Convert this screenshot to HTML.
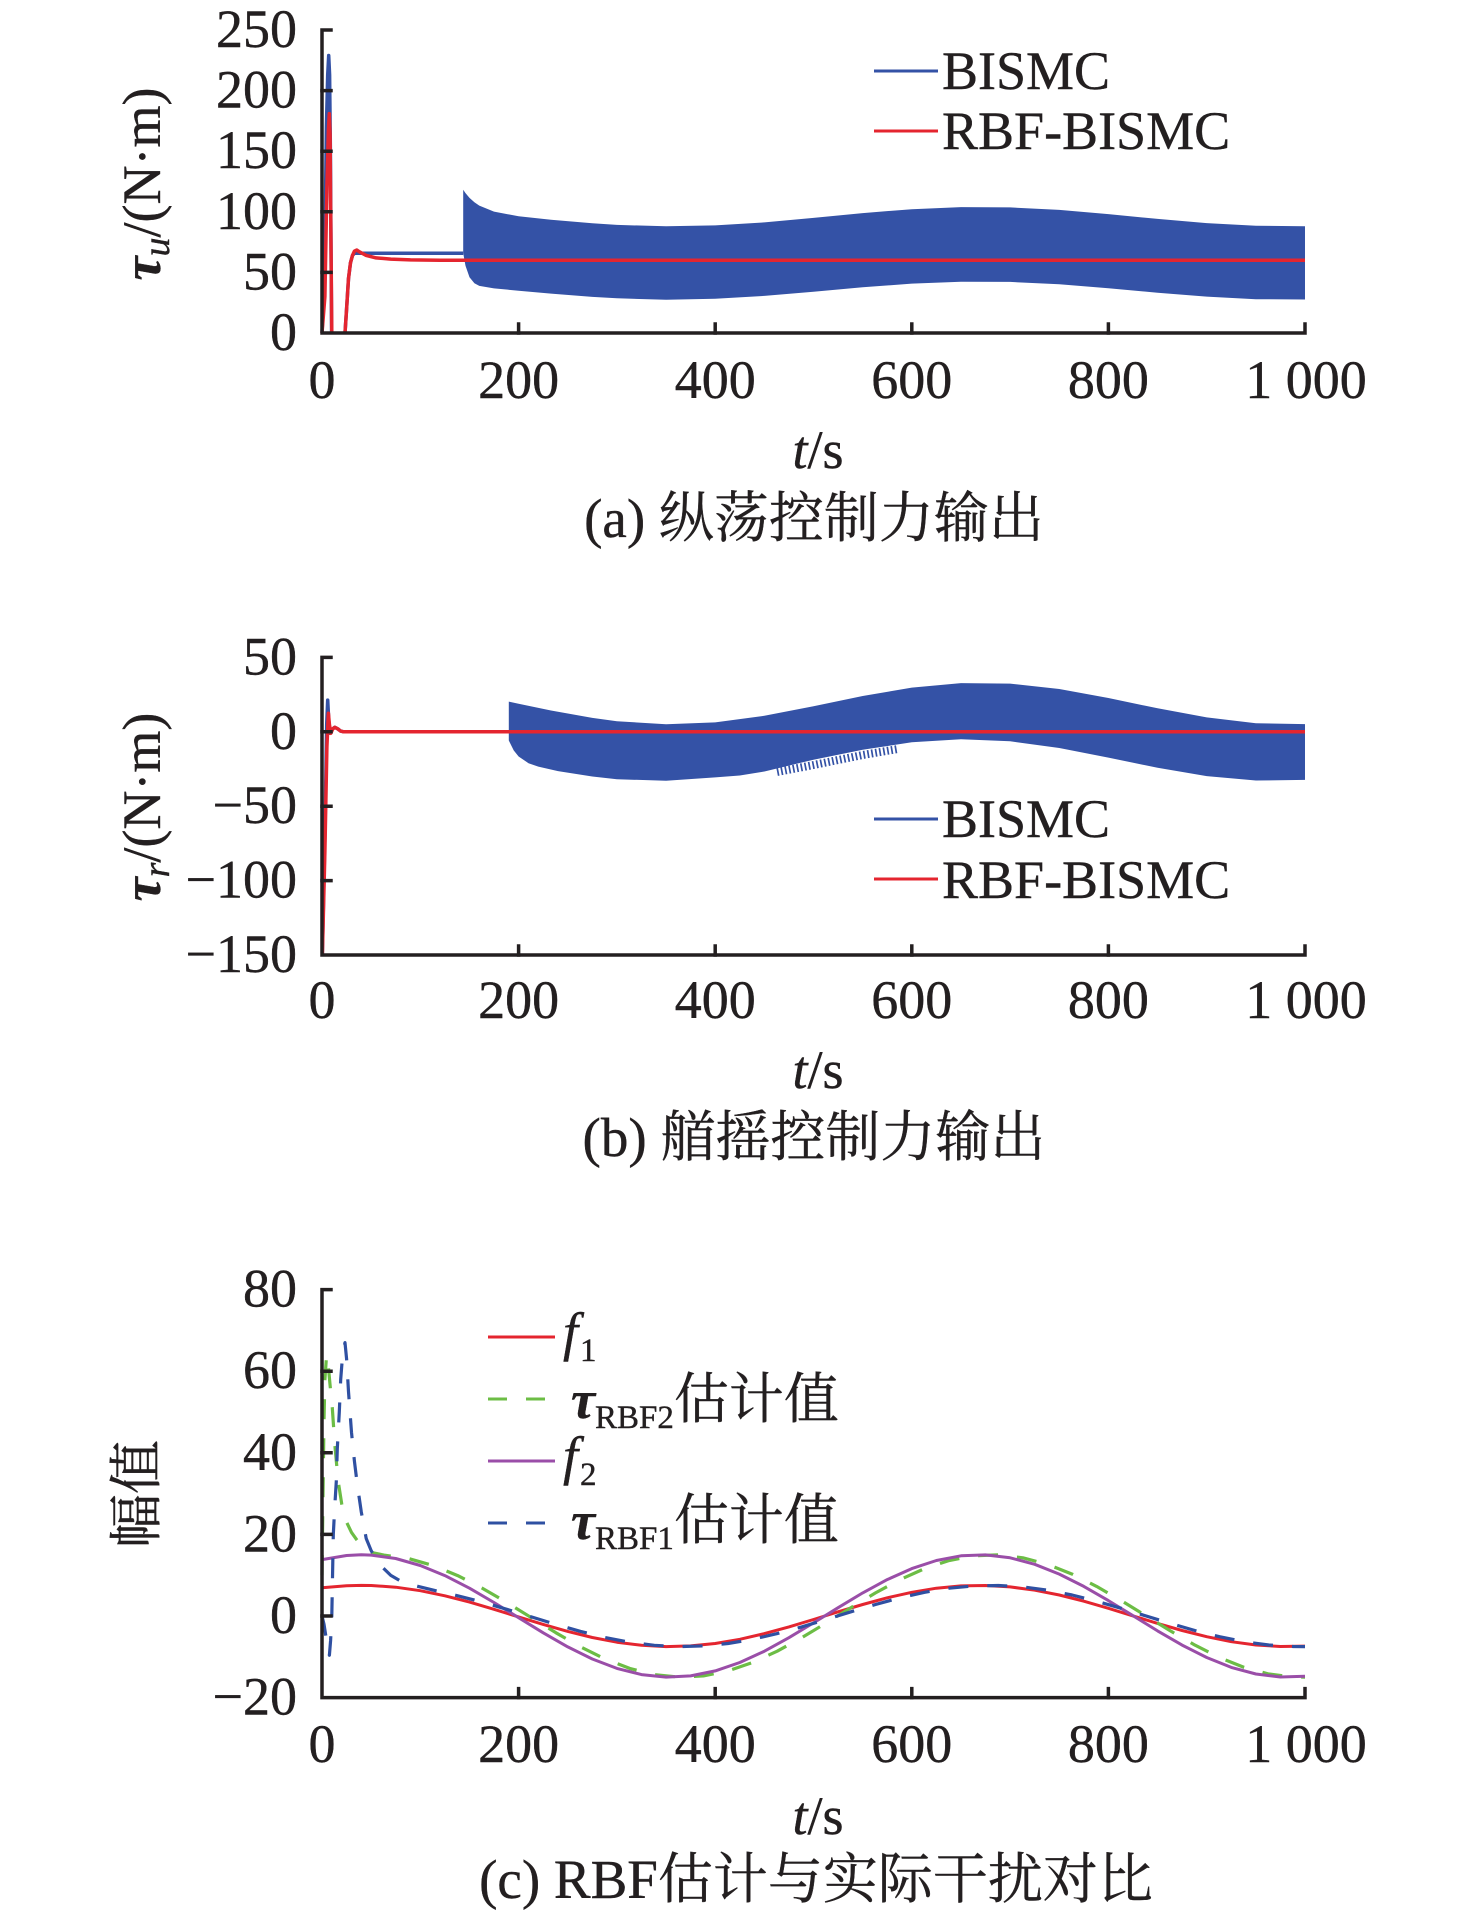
<!DOCTYPE html>
<html><head><meta charset="utf-8">
<style>
html,body{margin:0;padding:0;background:#fff;}
svg{display:block;}
text{font-family:"Liberation Serif","Noto Serif CJK SC",serif;fill:#231f20;stroke:#231f20;stroke-width:0.4px;}
.n{font-size:54px;}
.cap{font-size:55px;}
</style></head><body>
<svg width="1476" height="1922" viewBox="0 0 1476 1922">
<rect width="1476" height="1922" fill="#fff"/>
<defs>
<clipPath id="ca"><rect x="318" y="20" width="994" height="313"/></clipPath>
<clipPath id="cb"><rect x="318" y="640" width="994" height="315"/></clipPath>
<clipPath id="cc"><rect x="318" y="1280" width="994" height="418"/></clipPath>
</defs>

<!-- ===== panel a data ===== -->
<path fill="#3452a6" d="M463.2,253.1 L463.2,189.7 L465.5,193.1 L469.5,197.9 L474.4,202.3 L479.3,205.6 L494.0,211.6 L518.6,216.3 L551.0,219.8 L592.3,223.3 L616.9,224.9 L666.1,226.3 L715.2,225.4 L764.4,222.4 L813.5,217.9 L862.7,213.1 L911.8,209.2 L961.0,207.1 L1010.1,207.4 L1059.3,209.9 L1108.4,214.1 L1157.6,218.9 L1206.7,223.1 L1255.9,225.8 L1305,226.2 L1305,299.5 L1255.9,299.2 L1206.7,296.6 L1157.6,292.7 L1108.4,288.2 L1059.3,284.3 L1010.1,281.9 L961.0,281.7 L911.8,283.6 L862.7,287.3 L813.5,291.8 L764.4,295.9 L715.2,298.8 L666.1,299.7 L616.9,298.3 L592.3,296.9 L551.0,293.6 L518.6,290.7 L494.0,288.4 L479.3,285.9 L474.4,283.3 L469.5,277.2 L465.5,265.7 Z"/>
<g clip-path="url(#ca)" fill="none" stroke-width="3.5" stroke-linejoin="round">
<polyline stroke="#3452a6" points="322,333 324.5,284.5 326.4,127 327.7,75 328.7,55.5 329.6,75 330.4,151.2 331.6,333 332.8,369.4 343.6,369.4 345,333 346.6,308.8 348.5,278.5 350.5,262.7 352.5,255.4 354.4,253.3 463.2,253.3"/>
<polyline stroke="#e4252f" points="322,333 324.9,296.6 326.9,187.6 328.4,130 329.3,113.6 330.1,135 330.7,211.8 331.8,333 332.8,369.4 343.6,369.4 345,333 346.6,308.8 348.5,278.5 350.5,262.7 352.5,255.4 354.4,251.2 356.7,250 359.4,251.8 366.2,255.4 376.1,257.9 390.8,259.1 410.5,259.9 440,260.2 1305,260.2"/>
</g>

<!-- ===== panel b data ===== -->
<path fill="#3452a6" d="M508.8,740.5 L508.8,701.6 L518.6,703.7 L551.0,710.5 L592.3,717.9 L616.9,721.2 L666.1,724.3 L715.2,722.4 L764.4,715.8 L813.5,706.2 L862.7,696.0 L911.8,687.6 L961.0,683.1 L1010.1,683.6 L1059.3,689.0 L1108.4,698.0 L1157.6,708.3 L1206.7,717.4 L1255.9,723.2 L1305,724.1 L1305,779.9 L1255.9,780.5 L1206.7,776.1 L1157.6,767.8 L1108.4,757.6 L1059.3,748.0 L1010.1,741.3 L961.0,739.3 L911.8,742.3 L862.7,749.7 L813.5,759.7 L764.4,771.5 L739.8,775.5 L715.2,777.4 L666.1,780.8 L616.9,779.2 L592.3,776.5 L558.0,771.1 L538.3,766.6 L528.5,763.2 L518.6,756.5 L513.7,750.4 Z"/>
<polyline fill="none" stroke="#3452a6" stroke-width="8" stroke-dasharray="1.7 2.3" points="777.1,772 813.5,765 862.7,755 898,749"/>
<g clip-path="url(#cb)" fill="none" stroke-width="3.5" stroke-linejoin="round">
<polyline stroke="#3452a6" points="322,969.9 324.9,836 326.7,724.4 327.7,700.1 328.7,719.9 329.9,733.3 332.8,728.8 334.8,727.3 337.7,728.8 340.7,731.1 343.6,731.8 508.8,731.8"/>
<polyline stroke="#e4252f" points="322,969.9 324.9,850.8 326.9,746.7 328.4,713.2 329.4,724.4 330.8,733.3 332.8,728.8 334.8,727.3 337.7,728.8 340.7,731.1 343.6,731.8 1305,731.8"/>
</g>

<!-- ===== panel c data ===== -->
<g clip-path="url(#cc)" fill="none" stroke-linejoin="round">
<polyline stroke="#e4252f" stroke-width="3" points="322,1587.8 346.6,1585.7 361.3,1585.4 371.2,1585.5 395.7,1587.2 420.3,1590.7 444.9,1595.8 469.5,1602.1 494,1609.3 518.6,1616.9 543.2,1624.4 567.8,1631.4 592.3,1637.5 616.9,1642.2 641.5,1645.3 666.1,1646.6 690.6,1645.9 715.2,1643.5 739.8,1639.3 764.4,1633.6 788.9,1626.9 813.5,1619.5 838.1,1611.8 862.7,1604.5 887.2,1597.8 911.8,1592.3 936.4,1588.2 961,1585.9 985.5,1585.5 1010.1,1586.9 1034.7,1590.2 1059.3,1595 1083.8,1601.2 1108.4,1608.3 1133,1615.9 1157.6,1623.4 1182.1,1630.5 1206.7,1636.7 1231.3,1641.7 1255.9,1645 1280.4,1646.5 1305,1646.1"/>
<polyline stroke="#6cbd45" stroke-width="3.2" stroke-dasharray="20 19" points="322,1575.2 323,1493.6 324,1420.2 324.9,1379.4 326.6,1354.9 327.9,1361 329.9,1383.4 332.3,1407.9 334.8,1444.6 338.2,1481.4 341.7,1503.8 346.6,1522.2 351.5,1532.4 356.4,1539.3 361.3,1545.8 366.2,1549.9 371.2,1552.4 383.9,1555.1 408.5,1558.5 433.1,1565.5 457.7,1575.6 482.3,1588.2 506.8,1602.5 531.4,1617.7 556,1632.8 580.6,1646.9 605.1,1659 629.7,1668.4 654.3,1674.6 678.9,1677.1 703.4,1675.9 728,1670.9 752.6,1662.5 777.2,1651.2 801.7,1637.7 826.3,1622.9 850.9,1607.7 875.5,1592.9 900,1579.6 924.6,1568.6 949.2,1560.5 973.8,1555.8 998.3,1554.9 1022.9,1557.8 1047.5,1564.3 1072.1,1574.1 1096.6,1586.4 1121.2,1600.6 1145.8,1615.7 1170.4,1630.9 1194.9,1645.1 1219.5,1657.5 1244.1,1667.4 1268.7,1674 1293.2,1677 1305,1677.1"/>
<polyline stroke="#9a4ea8" stroke-width="3" points="322,1559.6 346.6,1555.5 361.3,1554.8 371.2,1555.1 395.7,1558.5 420.3,1565.5 444.9,1575.6 469.5,1588.2 494,1602.5 518.6,1617.7 543.2,1632.8 567.8,1646.9 592.3,1659 616.9,1668.4 641.5,1674.6 666.1,1677.1 690.6,1675.9 715.2,1670.9 739.8,1662.5 764.4,1651.2 788.9,1637.7 813.5,1622.9 838.1,1607.7 862.7,1592.9 887.2,1579.6 911.8,1568.6 936.4,1560.5 961,1555.8 985.5,1554.9 1010.1,1557.8 1034.7,1564.3 1059.3,1574.1 1083.8,1586.4 1108.4,1600.6 1133,1615.7 1157.6,1630.9 1182.1,1645.1 1206.7,1657.5 1231.3,1667.4 1255.9,1674 1280.4,1677 1305,1676.3"/>
<polyline stroke="#2f50a2" stroke-width="3.2" stroke-dasharray="20 19" points="322,1616 324,1624.2 325.9,1636.4 327.9,1650.7 329.4,1655.2 330.6,1640.5 331.8,1616 333.3,1534.4 334.8,1505.8 336.3,1481.4 337.3,1448.7 339.3,1412 340.7,1379.4 342.6,1354.9 345,1342.6 346.6,1359 348.5,1391.6 351.5,1432.4 354.4,1461 357.4,1485.4 361.3,1512 366.2,1538.5 371.2,1550.7 376.1,1558.9 381,1565.8 390.8,1575.4 400.6,1581.1 408.5,1584.1 433.1,1590.1 457.7,1595.8 482.3,1602.1 506.8,1609.3 531.4,1616.9 556,1624.4 580.6,1631.4 605.1,1637.5 629.7,1642.2 654.3,1645.3 678.9,1646.6 703.4,1645.9 728,1643.5 752.6,1639.3 777.2,1633.6 801.7,1626.9 826.3,1619.5 850.9,1611.8 875.5,1604.5 900,1597.8 924.6,1592.3 949.2,1588.2 973.8,1585.9 998.3,1585.5 1022.9,1586.9 1047.5,1590.2 1072.1,1595 1096.6,1601.2 1121.2,1608.3 1145.8,1615.9 1170.4,1623.4 1194.9,1630.5 1219.5,1636.7 1244.1,1641.7 1268.7,1645 1293.2,1646.5 1305,1646.6"/>
</g>

<!-- axes -->
<g stroke="#231f20" stroke-width="3.5" fill="none" stroke-linecap="square">
  <polyline points="331,30 322,30 322,333 1305,333 1305,324"/>
  <path d="M322 90.6H331M322 151.2H331M322 211.8H331M322 272.4H331M518.6 333V324M715.2 333V324M911.8 333V324M1108.4 333V324"/>
  <polyline points="331,657.4 322,657.4 322,955 1305,955 1305,946"/>
  <path d="M322 731.8H331M322 806.2H331M322 880.6H331M518.6 955V946M715.2 955V946M911.8 955V946M1108.4 955V946"/>
  <polyline points="331,1289.6 322,1289.6 322,1697.6 1305,1697.6 1305,1688.6"/>
  <path d="M322 1371.2H331M322 1452.8H331M322 1534.4H331M322 1616H331M518.6 1697.6V1688.6M715.2 1697.6V1688.6M911.8 1697.6V1688.6M1108.4 1697.6V1688.6"/>
</g>

<!-- panel a labels -->
<g class="n" text-anchor="end">
  <text x="297" y="47">250</text>
  <text x="297" y="107.6">200</text>
  <text x="297" y="168.2">150</text>
  <text x="297" y="228.8">100</text>
  <text x="297" y="289.4">50</text>
  <text x="297" y="350">0</text>
</g>
<g class="n" text-anchor="middle">
  <text x="322" y="398">0</text>
  <text x="518.6" y="398">200</text>
  <text x="715.2" y="398">400</text>
  <text x="911.8" y="398">600</text>
  <text x="1108.4" y="398">800</text>
  <text x="1306" y="398">1 000</text>
  <text x="818" y="468"><tspan font-style="italic">t</tspan>/s</text>
</g>
<text class="cap" x="814" y="537" text-anchor="middle">(a) 纵荡控制力输出</text>
<text class="n" transform="translate(160,184) rotate(-90)" text-anchor="middle"><tspan font-weight="bold" font-style="italic">τ</tspan><tspan font-style="italic" font-size="38" dy="9">u</tspan><tspan dy="-9">/(N·m)</tspan></text>
<g stroke-width="3">
  <line x1="874" y1="71" x2="938" y2="71" stroke="#3452a6"/>
  <line x1="874" y1="131" x2="938" y2="131" stroke="#e4252f"/>
</g>
<text class="n" x="942" y="89">BISMC</text>
<text class="n" x="942" y="149">RBF-BISMC</text>

<!-- panel b labels -->
<g class="n" text-anchor="end">
  <text x="297" y="674.4">50</text>
  <text x="297" y="748.8">0</text>
  <text x="297" y="823.2">−50</text>
  <text x="297" y="897.6">−100</text>
  <text x="297" y="972">−150</text>
</g>
<g class="n" text-anchor="middle">
  <text x="322" y="1018">0</text>
  <text x="518.6" y="1018">200</text>
  <text x="715.2" y="1018">400</text>
  <text x="911.8" y="1018">600</text>
  <text x="1108.4" y="1018">800</text>
  <text x="1306" y="1018">1 000</text>
  <text x="818" y="1088"><tspan font-style="italic">t</tspan>/s</text>
</g>
<text class="cap" x="814" y="1156" text-anchor="middle">(b) 艏摇控制力输出</text>
<text class="n" transform="translate(160,807) rotate(-90)" text-anchor="middle"><tspan font-weight="bold" font-style="italic">τ</tspan><tspan font-style="italic" font-size="38" dy="9">r</tspan><tspan dy="-9">/(N·m)</tspan></text>
<g stroke-width="3">
  <line x1="874" y1="819" x2="938" y2="819" stroke="#3452a6"/>
  <line x1="874" y1="879" x2="938" y2="879" stroke="#e4252f"/>
</g>
<text class="n" x="942" y="837">BISMC</text>
<text class="n" x="942" y="898">RBF-BISMC</text>

<!-- panel c labels -->
<g class="n" text-anchor="end">
  <text x="297" y="1306.6">80</text>
  <text x="297" y="1388.2">60</text>
  <text x="297" y="1469.8">40</text>
  <text x="297" y="1551.4">20</text>
  <text x="297" y="1633">0</text>
  <text x="297" y="1714.6">−20</text>
</g>
<g class="n" text-anchor="middle">
  <text x="322" y="1762">0</text>
  <text x="518.6" y="1762">200</text>
  <text x="715.2" y="1762">400</text>
  <text x="911.8" y="1762">600</text>
  <text x="1108.4" y="1762">800</text>
  <text x="1306" y="1762">1 000</text>
  <text x="818" y="1834"><tspan font-style="italic">t</tspan>/s</text>
</g>
<text class="cap" x="816" y="1898" text-anchor="middle">(c) RBF估计与实际干扰对比</text>
<text class="n" transform="translate(155,1494) rotate(-90)" text-anchor="middle">幅值</text>

<!-- legend c -->
<g stroke-width="3" fill="none">
  <line x1="488" y1="1337" x2="555" y2="1337" stroke="#e4252f"/>
  <line x1="488" y1="1399" x2="555" y2="1399" stroke="#6cbd45" stroke-dasharray="19 19"/>
  <line x1="488" y1="1461" x2="555" y2="1461" stroke="#9a4ea8"/>
  <line x1="488" y1="1523" x2="555" y2="1523" stroke="#2f50a2" stroke-dasharray="19 19"/>
</g>
<text class="n" x="563" y="1350"><tspan font-style="italic">f</tspan><tspan font-size="33" dy="11" dx="2">1</tspan></text>
<text class="n" x="571" y="1418"><tspan font-weight="bold" font-style="italic">τ</tspan><tspan font-size="33" dy="10">RBF2</tspan><tspan dy="-10" font-size="55">估计值</tspan></text>
<text class="n" x="563" y="1474"><tspan font-style="italic">f</tspan><tspan font-size="33" dy="11" dx="2">2</tspan></text>
<text class="n" x="571" y="1539"><tspan font-weight="bold" font-style="italic">τ</tspan><tspan font-size="33" dy="10">RBF1</tspan><tspan dy="-10" font-size="55">估计值</tspan></text>
</svg>
</body></html>
